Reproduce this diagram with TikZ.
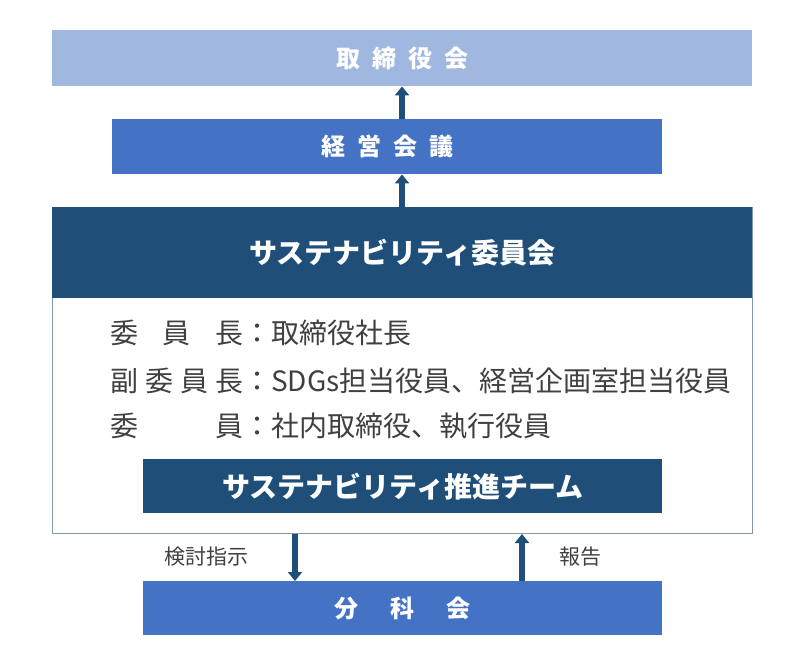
\documentclass[tikz,border=0pt]{standalone}
\usepackage{fontspec}
\setmainfont{Noto Sans CJK JP}
\usetikzlibrary{arrows.meta}
\definecolor{topc}{RGB}{160,184,224}
\definecolor{midc}{RGB}{68,114,196}
\definecolor{darkc}{RGB}{31,78,121}
\definecolor{edgec}{RGB}{132,151,176}
\definecolor{txtc}{RGB}{64,64,64}
\tikzset{
  boxbase/.style={rectangle, inner sep=0pt, text=white, font=\fontsize{24}{28}\selectfont\bfseries},
  bigtitle/.style={font=\fontsize{28}{32}\selectfont\bfseries},
  lightbox/.style={boxbase, fill=topc},
  midbox/.style={boxbase, fill=midc},
  darkbox/.style={boxbase, fill=darkc},
  bodytext/.style={inner sep=0pt, anchor=west, text=txtc, font=\fontsize{28}{32}\selectfont},
  smalltext/.style={inner sep=0pt, text=txtc, font=\fontsize{21}{24}\selectfont},
  flow/.style={darkc, line width=6pt, -{Triangle[width=14pt,length=9pt]}}
}
\begin{document}
\begin{tikzpicture}[x=1pt,y=-1pt]
\useasboundingbox (0,0) rectangle (800,670);
% outer committee box
\node[rectangle, draw=edgec, line width=1pt, fill=white, minimum width=700pt, minimum height=326pt, anchor=north west, inner sep=0pt] (outer) at (52,207) {};
\node[darkbox, bigtitle, minimum width=700pt, minimum height=91pt, anchor=north west] (comm) at (52,207) {サステナビリティ委員会};
% top boxes
\node[lightbox, minimum width=700pt, minimum height=56pt, anchor=north west] (board) at (52,30) {取\hspace{12pt}締\hspace{12pt}役\hspace{12pt}会};
\node[midbox, minimum width=550pt, minimum height=55pt, anchor=north west] (mgmt) at (112,119) {経\hspace{12pt}営\hspace{12pt}会\hspace{12pt}議};
% member lines
\node[bodytext] (l1) at (110,333) {\makebox[133pt][s]{委\hfil 員\hfil 長}：取締役社長};
\node[bodytext] (l2) at (110,381) {\makebox[133pt][s]{副\hfil 委\hfil 員\hfil 長}：SDGs担当役員、経営企画室担当役員};
\node[bodytext] (l3) at (110,426) {\makebox[133pt][s]{委\hfil 員}：社内取締役、執行役員};
% team box
\node[darkbox, bigtitle, minimum width=519pt, minimum height=54pt, anchor=north west] (team) at (143,459) {サステナビリティ推進チーム};
% subcommittee
\node[midbox, minimum width=519pt, minimum height=54pt, anchor=north west] (sub) at (143,581) {分\hspace{32pt}科\hspace{32pt}会};
% arrows
\coordinate (a1s) at (402,119);
\coordinate (a1e) at (402,86);
\draw[flow] (mgmt.north -| a1s) -- (board.south -| a1e);
\draw[flow] (comm.north -| a1s) -- (mgmt.south -| a1e);
\coordinate (dn) at (295,0);
\coordinate (up) at (522,0);
\draw[flow] (outer.south -| dn) -- (sub.north -| dn);
\draw[flow] (sub.north -| up) -- (outer.south -| up);
\node[smalltext] (lab1) at (206,557) {検討指示};
\node[smalltext] (lab2) at (580,557) {報告};
\end{tikzpicture}
\end{document}
